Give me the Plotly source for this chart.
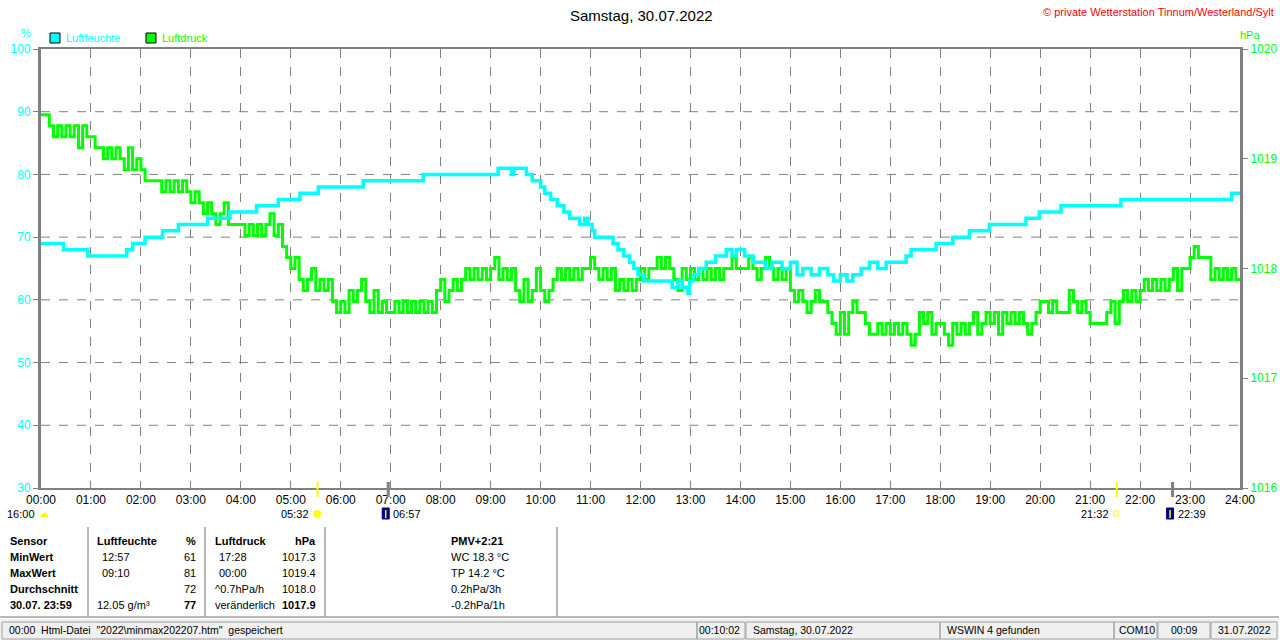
import plotly.graph_objects as go

# ---------------- data ----------------
hour_labels = ["00:00", "01:00", "02:00", "03:00", "04:00", "05:00", "06:00", "07:00",
               "08:00", "09:00", "10:00", "11:00", "12:00", "13:00", "14:00", "15:00",
               "16:00", "17:00", "18:00", "19:00", "20:00", "21:00", "22:00", "23:00", "24:00"]
hum_ticks = [30, 40, 50, 60, 70, 80, 90, 100]
pres_ticks = [1016, 1017, 1018, 1019, 1020]

# humidity (%) - change points
hum_times = ["00:00", "00:27", "00:56", "01:43", "01:50", "02:05", "02:26", "02:45", "03:20", "03:47",
             "04:19", "04:45", "05:11", "05:33", "06:27", "07:39", "09:09", "09:25", "09:28", "09:43",
             "09:50", "10:00", "10:05", "10:12", "10:20", "10:28", "10:35", "10:47", "10:53", "10:57",
             "11:02", "11:05", "11:27", "11:33", "11:40", "11:47", "11:52", "11:57", "12:04", "12:38",
             "12:45", "12:50", "12:57", "12:59", "13:03", "13:10", "13:19", "13:30", "13:43", "13:50",
             "13:55", "14:05", "14:15", "14:30", "14:38", "14:50", "15:00", "15:08", "15:15", "15:25",
             "15:35", "15:45", "15:52", "16:00", "16:08", "16:15", "16:25", "16:35", "16:45", "16:55",
             "17:19", "17:25", "17:55", "18:15", "18:35", "18:59", "19:43", "19:59", "20:25", "21:37",
             "23:50", "24:00"]
hum_values = [69, 68, 67, 68, 69, 70, 71, 72, 73, 74,
              75, 76, 77, 78, 79, 80, 81, 80, 81, 80,
              79, 78, 77, 76, 75, 74, 73, 72, 73, 72,
              71, 70, 69, 68, 67, 66, 65, 64, 63, 62,
              63, 62, 61, 63, 64, 65, 66, 67, 68, 67,
              68, 67, 66, 65, 66, 65, 66, 64, 65, 64,
              65, 64, 63, 64, 63, 64, 65, 66, 65, 66,
              67, 68, 69, 70, 71, 72, 73, 74, 75, 76,
              77, 77]

# pressure (hPa) every 5 minutes, one row per hour
pressure = [
    1019.4, 1019.4, 1019.3, 1019.2, 1019.3, 1019.2, 1019.3, 1019.2, 1019.3, 1019.1, 1019.3, 1019.2,  # 00
    1019.2, 1019.1, 1019.1, 1019.0, 1019.1, 1019.0, 1019.1, 1019.0, 1018.9, 1019.1, 1018.9, 1019.0,  # 01
    1018.9, 1018.8, 1018.8, 1018.8, 1018.8, 1018.7, 1018.8, 1018.7, 1018.8, 1018.7, 1018.8, 1018.7,  # 02
    1018.6, 1018.7, 1018.6, 1018.5, 1018.6, 1018.5, 1018.4, 1018.5, 1018.6, 1018.4, 1018.4, 1018.4,  # 03
    1018.4, 1018.3, 1018.4, 1018.3, 1018.4, 1018.3, 1018.4, 1018.5, 1018.3, 1018.4, 1018.2, 1018.1,  # 04
    1018.0, 1018.1, 1017.9, 1017.8, 1017.9, 1018.0, 1017.8, 1017.9, 1017.8, 1017.9, 1017.7, 1017.6,  # 05
    1017.7, 1017.6, 1017.8, 1017.7, 1017.8, 1017.9, 1017.7, 1017.6, 1017.8, 1017.6, 1017.7, 1017.6,  # 06
    1017.6, 1017.7, 1017.6, 1017.7, 1017.6, 1017.7, 1017.6, 1017.7, 1017.6, 1017.7, 1017.6, 1017.8,  # 07
    1017.9, 1017.7, 1017.8, 1017.9, 1017.8, 1017.9, 1018.0, 1017.9, 1018.0, 1017.9, 1018.0, 1017.9,  # 08
    1018.0, 1018.1, 1017.9, 1018.0, 1017.9, 1018.0, 1017.8, 1017.7, 1017.9, 1017.7, 1017.8, 1018.0,  # 09
    1017.8, 1017.7, 1017.8, 1017.9, 1018.0, 1017.9, 1018.0, 1017.9, 1018.0, 1017.9, 1018.0, 1018.0,  # 10
    1018.1, 1018.0, 1017.9, 1018.0, 1017.9, 1018.0, 1017.8, 1017.9, 1017.8, 1017.9, 1017.8, 1017.9,  # 11
    1018.0, 1017.9, 1018.0, 1018.0, 1018.1, 1018.0, 1018.1, 1018.0, 1017.9, 1017.8, 1018.0, 1017.9,  # 12
    1018.0, 1017.9, 1018.0, 1017.9, 1018.0, 1017.9, 1018.0, 1017.9, 1018.0, 1018.0, 1018.1, 1018.0,  # 13
    1018.0, 1018.0, 1018.1, 1018.0, 1017.9, 1018.0, 1018.1, 1018.0, 1017.9, 1018.0, 1017.9, 1018.0,  # 14
    1017.8, 1017.7, 1017.8, 1017.7, 1017.6, 1017.7, 1017.8, 1017.7, 1017.7, 1017.6, 1017.5, 1017.4,  # 15
    1017.6, 1017.4, 1017.6, 1017.7, 1017.6, 1017.6, 1017.5, 1017.4, 1017.4, 1017.5, 1017.4, 1017.5,  # 16
    1017.4, 1017.5, 1017.4, 1017.5, 1017.4, 1017.3, 1017.4, 1017.6, 1017.5, 1017.6, 1017.4, 1017.5,  # 17
    1017.5, 1017.4, 1017.3, 1017.5, 1017.4, 1017.5, 1017.4, 1017.5, 1017.6, 1017.4, 1017.5, 1017.6,  # 18
    1017.5, 1017.6, 1017.4, 1017.6, 1017.5, 1017.6, 1017.5, 1017.6, 1017.5, 1017.4, 1017.5, 1017.6,  # 19
    1017.7, 1017.7, 1017.6, 1017.7, 1017.6, 1017.6, 1017.6, 1017.8, 1017.7, 1017.6, 1017.7, 1017.6,  # 20
    1017.5, 1017.5, 1017.5, 1017.5, 1017.6, 1017.7, 1017.5, 1017.7, 1017.8, 1017.7, 1017.8, 1017.7,  # 21
    1017.8, 1017.9, 1017.8, 1017.9, 1017.8, 1017.9, 1017.8, 1017.9, 1018.0, 1017.8, 1018.0, 1018.0,  # 22
    1018.1, 1018.2, 1018.1, 1018.1, 1018.1, 1017.9, 1018.0, 1017.9, 1018.0, 1017.9, 1018.0, 1017.9,  # 23
    1017.9,
]
pressure_step_min = 5

# sun / moon events
event_times = ["05:32", "06:57", "21:32", "22:39"]
event_kinds = ["sun", "moon", "sun", "moon"]

# summary table
table_rows = [
    ["Sensor", "Luftfeuchte", "%", "Luftdruck", "hPa", "PMV+2:21"],
    ["MinWert", "12:57", "61", "17:28", "1017.3", "WC 18.3 °C"],
    ["MaxWert", "09:10", "81", "00:00", "1019.4", "TP 14.2 °C"],
    ["Durchschnitt", "", "72", "^0.7hPa/h", "1018.0", "0.2hPa/3h"],
    ["30.07. 23:59", "12.05 g/m³", "77", "veränderlich", "1017.9", "-0.2hPa/1h"],
]
status_texts = ['00:00  Html-Datei  "2022\\minmax202207.htm"  gespeichert', "00:10:02",
                "Samstag, 30.07.2022", "WSWIN 4 gefunden", "COM10", "00:09", "31.07.2022"]

# ---------------- helpers ----------------
W, H = 1280, 641
L, R, T, B = 41, 40, 49, 153
PW, PH = W - L - R, H - T - B


def px(x):
    return (x - L) / PW


def py(y):
    return (H - B - y) / PH


def tmin(s):
    h, m = s.split(":")
    return int(h) * 60 + int(m)


FONT = "Liberation Sans, Arial, sans-serif"
GRAY = "#808080"
CYAN = "#00ffff"
LIME = "#00ff00"

hum_x = [tmin(t) for t in hum_times]
p_x = [i * pressure_step_min for i in range(len(pressure))]

fig = go.Figure()
# pressure on the primary (right) axis, drawn first
fig.add_trace(go.Scatter(x=p_x, y=pressure, mode="lines", line=dict(color=LIME, width=3, shape="hv"),
                         name="Luftdruck", yaxis="y"))
# humidity on the overlaying (left) axis, drawn on top
fig.add_trace(go.Scatter(x=hum_x, y=hum_values, mode="lines", line=dict(color=CYAN, width=3.5, shape="hv"),
                         name="Luftfeuchte", yaxis="y2"))

annotations = []
shapes = []

# horizontal dashed grid at the humidity ticks (below the traces)
for v in hum_ticks[1:-1]:
    shapes.append(dict(type="line", xref="paper", yref="y2", x0=0, x1=1, y0=v, y1=v,
                       line=dict(color=GRAY, width=1, dash="dash"), layer="below"))


def text(x, y, s, color="black", size=11, anchor="left", bold=False):
    annotations.append(dict(x=px(x), y=py(y), xref="paper", yref="paper", text=(f"<b>{s}</b>" if bold else s),
                            showarrow=False, xanchor=anchor, yanchor="middle",
                            font=dict(family=FONT, size=size, color=color)))


def rect(x0, y0, x1, y1, fill=None, line="black", lw=1):
    shapes.append(dict(type="rect", xref="paper", yref="paper", x0=px(x0), x1=px(x1), y0=py(y0), y1=py(y1),
                       fillcolor=fill, line=dict(color=line, width=lw), layer="above"))


def line(x0, y0, x1, y1, color=GRAY, lw=1):
    shapes.append(dict(type="line", xref="paper", yref="paper", x0=px(x0), x1=px(x1), y0=py(y0), y1=py(y1),
                       line=dict(color=color, width=lw), layer="above"))


# title and header texts
text(641, 15, "Samstag, 30.07.2022", size=15, anchor="center")
text(1276, 12, "© private Wetterstation Tinnum/Westerland/Sylt", color="#ff0000", size=11, anchor="right")
text(26, 33, "%", color=CYAN, size=11, anchor="center")
text(1250, 35, "hPa", color=LIME, size=11, anchor="center")

# legend
rect(50, 33, 60, 43, fill=CYAN, line="black", lw=1)
text(64, 38, "Luftfeuchte", color=CYAN)
rect(146, 33, 156, 43, fill=LIME, line="black", lw=1)
text(160, 38, "Luftdruck", color=LIME)

# day-length / events row
text(37, 514, "16:00", anchor="right")
shapes.append(dict(type="path", xref="paper", yref="paper",
                   path=f"M {px(41)},{py(517)} Q {px(44.5)},{py(509)} {px(48)},{py(517)} Z",
                   fillcolor="#ffff00", line=dict(color="#ffff00", width=1), layer="above"))
for t, kind in zip(event_times, event_kinds):
    m = tmin(t)
    xx = L + m / 1440 * PW
    if kind == "sun":
        shapes.append(dict(type="line", xref="x", yref="paper", x0=m, x1=m, y0=py(482), y1=py(497),
                           line=dict(color="#ffff00", width=2), layer="above"))
        text(xx - 6, 514, t, anchor="right")
        if m < 720:
            shapes.append(dict(type="circle", xref="paper", yref="paper", x0=px(xx - 4), x1=px(xx + 4),
                               y0=py(518), y1=py(510), fillcolor="#ffff00", line=dict(color="#ffff66", width=1),
                               layer="above"))
        else:
            rect(xx - 3, 511, xx + 2, 516, fill="white", line="#ffff00", lw=1)
    else:
        shapes.append(dict(type="line", xref="x", yref="paper", x0=m, x1=m, y0=py(482), y1=py(497),
                           line=dict(color=GRAY, width=3), layer="above"))
        rect(xx - 6, 508, xx + 1, 519, fill="#000080", line="#000080", lw=1)
        shapes.append(dict(type="line", xref="paper", yref="paper", x0=px(xx - 2.5), x1=px(xx - 2.5),
                           y0=py(510), y1=py(518), line=dict(color="#ffff00", width=1.5), layer="above"))
        text(xx + 3, 514, t, anchor="left")

# summary table
row_y = [541, 557, 573, 589, 605]
for i, (row, y) in enumerate(zip(table_rows, row_y)):
    header = i == 0
    text(8, y, row[0], bold=True)
    text(95 if (header or i == 4) else 100, y, row[1], bold=header)
    text(198, y, row[2], anchor="right", bold=(header or i == 4))
    text(213 if i in (0, 3, 4) else 217, y, row[3], bold=header)
    text(318, y, row[4], anchor="right", bold=(header or i == 4))
    text(449, y, row[5], bold=header)
for xs in [88, 205, 325, 557]:
    line(xs, 527, xs, 617, color="#a0a0a0", lw=1.5)
line(0, 617, 1279, 617, color="#a0a0a0", lw=1.5)

# status bar
rect(0, 619, 1279, 640, fill="#f0f0f0", line="#f0f0f0", lw=0)
panels = [(2, 697), (697, 745), (746, 940), (940, 1114), (1114, 1157), (1158, 1210), (1211, 1277)]
for j, ((a, b), s) in enumerate(zip(panels, status_texts)):
    rect(a, 622, b, 639, fill=None, line="#a0a0a0", lw=1)
    if j == 1:
        text(b - 3, 630, s, anchor="right", size=10.5)
    elif j == 5:
        text((a + b) / 2, 630, s, anchor="center", size=10.5)
    elif j == 4:
        text(a + 3, 630, s, size=10.5)
    else:
        text(a + 5, 630, s, size=10.5)

fig.update_layout(
    width=W, height=H, autosize=False,
    margin=dict(l=L, r=R, t=T, b=B, pad=0, autoexpand=False),
    paper_bgcolor="white", plot_bgcolor="white",
    showlegend=False,
    font=dict(family=FONT, size=11, color="black"),
    xaxis=dict(range=[0, 1440], tickvals=[i * 60 for i in range(25)], ticktext=hour_labels,
               showgrid=True, gridcolor=GRAY, griddash="dash", gridwidth=1, automargin=False,
               showline=True, linecolor=GRAY, linewidth=2, mirror="ticks",
               ticks="inside", ticklen=6, tickcolor=GRAY, tickwidth=1,
               tickfont=dict(family=FONT, size=12, color="black"), zeroline=False, fixedrange=True),
    yaxis=dict(range=[1016, 1020], tickvals=pres_ticks, side="right", showgrid=False,
               showline=True, linecolor=GRAY, linewidth=3, ticks="outside", ticklen=5, tickcolor=GRAY,
               automargin=False, tickfont=dict(family=FONT, size=12, color=LIME), zeroline=False),
    yaxis2=dict(range=[30, 100], tickvals=hum_ticks, overlaying="y", side="left", showgrid=False,
                showline=True, linecolor=GRAY, linewidth=3, ticks="outside", ticklen=5, tickcolor=GRAY,
                automargin=False, tickfont=dict(family=FONT, size=12, color=CYAN), zeroline=False),
    annotations=annotations,
    shapes=shapes,
)

fig.write_html("out.html", config={"displayModeBar": False, "responsive": False},
               post_script="document.body.style.margin='0';document.body.style.padding='0';"
                           "document.body.style.overflow='hidden';"
                           "document.documentElement.style.overflow='hidden';")
